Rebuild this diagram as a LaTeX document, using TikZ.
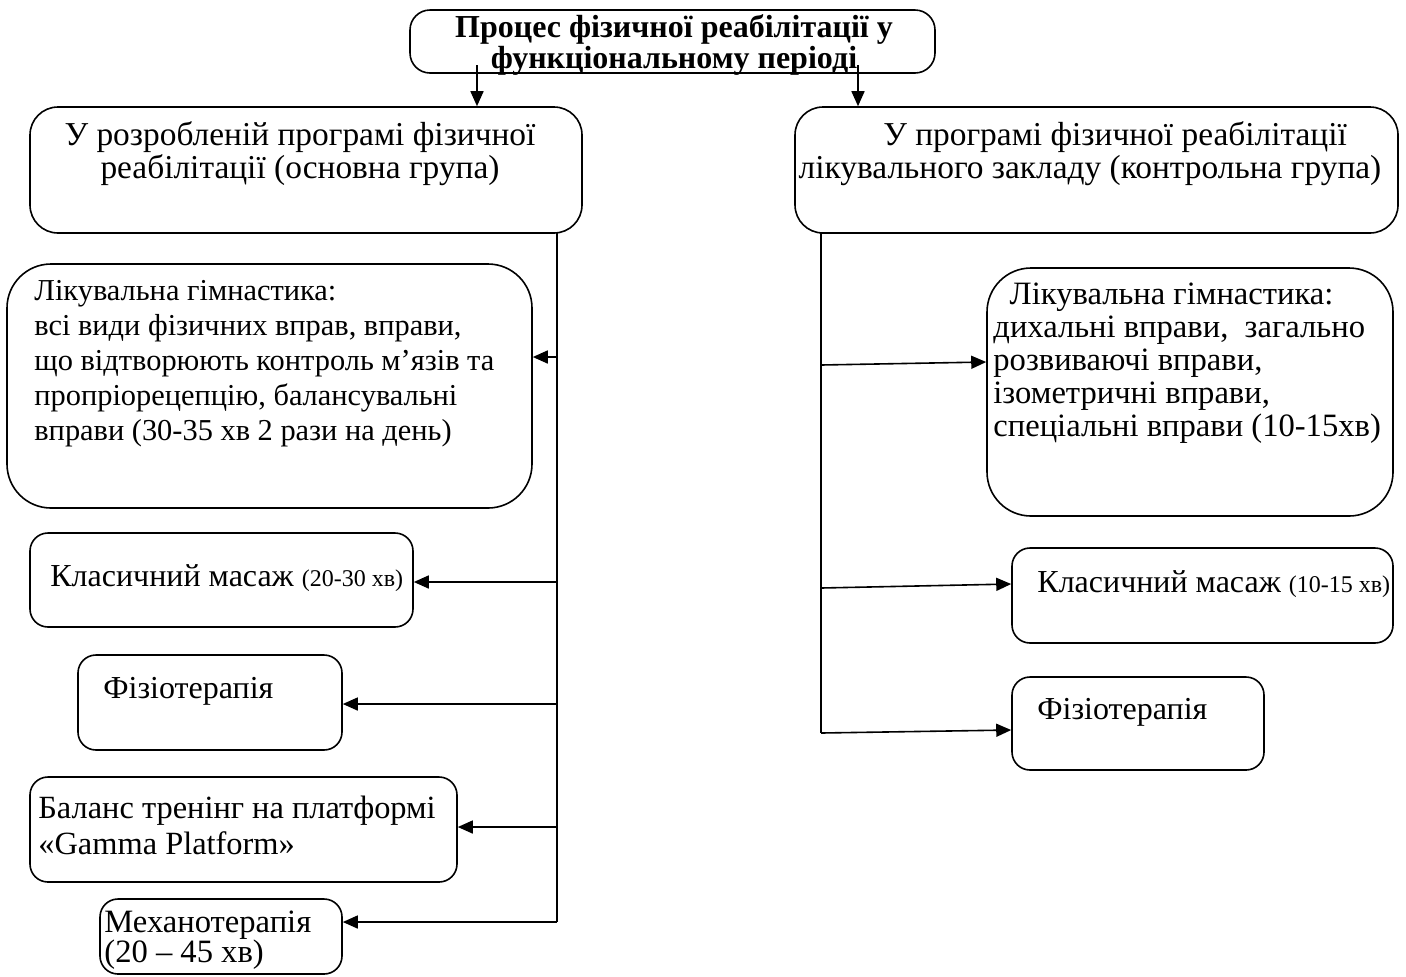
\documentclass[tikz,border=0pt]{standalone}
\usepackage{fontspec}
\setmainfont{Liberation Serif}
\usetikzlibrary{positioning,arrows.meta,calc,fit}

\begin{document}
\begin{tikzpicture}[x=0.5pt,y=-0.5pt,
  box/.style={draw, line width=0.8pt, rounded corners=#1, inner sep=0pt},
  box/.default=9pt,
  txt/.style={inner sep=0pt, font=\fontsize{16}{17.5}\selectfont},
  arr/.style={line width=0.8pt, -{Triangle[length=7.5pt,width=6.5pt]}}]
\useasboundingbox (0,0) rectangle (1406,976);

% boxes
\node[box=10pt, fit={(410,10) (935,73)}] (title) {};
\node[box=14pt, fit={(30,107) (582,233)}] (lProg) {};
\node[box=14pt, fit={(795,107) (1398,233)}] (rProg) {};
\node[box=22pt, fit={(7,264) (532,508)}] (lLG) {};
\node[box, fit={(30,533) (413,627)}] (lMas) {};
\node[box, fit={(78,655) (342,750)}] (lPhys) {};
\node[box, fit={(30,777) (457,882)}] (lBal) {};
\node[box, fit={(100,899) (342,974)}] (lMech) {};
\node[box=22pt, fit={(987,268) (1393,516)}] (rLG) {};
\node[box, fit={(1012,548) (1393,643)}] (rMas) {};
\node[box, fit={(1012,677) (1264,770)}] (rPhys) {};

% texts
\node[txt, font=\bfseries\fontsize{16}{12.5}\selectfont, align=center] (titleT) at (674,45)
  {Процес фізичної реабілітації у\\функціональному періоді};
\node[txt, font=\fontsize{16.7}{16.5}\selectfont, align=center] (lProgT) at (300,154)
  {У розробленій програмі фізичної\\реабілітації (основна група)};
\node[txt, font=\fontsize{16.7}{16.5}\selectfont, align=center] (rProgT) at (1090,154)
  {\hspace*{1.5em}У програмі фізичної реабілітації\\лікувального закладу (контрольна група)};
\node[txt, font=\fontsize{15.2}{17.5}\selectfont, align=left, anchor=west] (lLGT) at (34,364)
  {Лікувальна гімнастика:\\всі види фізичних вправ, вправи,\\що відтворюють контроль м’язів та\\пропріорецепцію, балансувальні\\вправи (30-35 хв 2 рази на день)};
\node[txt, anchor=west] (lMasT) at (50,578) {Класичний масаж {\fontsize{12}{14}\selectfont(20-30 хв)}};
\node[txt, anchor=west] (lPhysT) at (103,691) {Фізіотерапія};
\node[txt, font=\fontsize{16.2}{18}\selectfont, align=left, anchor=west] (lBalT) at (38,825)
  {Баланс тренінг на платформі\\«Gamma Platform»};
\node[txt, align=left, anchor=west, font=\fontsize{16.3}{15}\selectfont] (lMechT) at (104,940)
  {Механотерапія\\(20 – 45 хв)};
\node[txt, font=\fontsize{16.3}{16.5}\selectfont, align=left, anchor=west] (rLGT) at (993,363)
  {\hspace*{0.5em}Лікувальна гімнастика:\\дихальні вправи,\ \ загально\\розвиваючі вправи,\\ізометричні вправи,\\спеціальні вправи (10-15хв)};
\node[txt, anchor=west] (rMasT) at (1037,584) {Класичний масаж {\fontsize{12}{14}\selectfont(10-15 хв)}};
\node[txt, anchor=west] (rPhysT) at (1037,712) {Фізіотерапія};

% connectors
\coordinate (tA) at (477,65);
\coordinate (tB) at (858,65);
\draw[arr] (tA) -- (tA |- lProg.north);
\draw[arr] (tB) -- (tB |- rProg.north);

\coordinate (jL0) at (557,233);
\coordinate (jL1) at (557,357);
\coordinate (jL2) at (557,582);
\coordinate (jL3) at (557,704);
\coordinate (jL4) at (557,827);
\coordinate (jL5) at (557,922);
\draw[line width=0.8pt] (jL0) -- (jL5);
\draw[arr] (jL1) -- (jL1 -| lLG.east);
\draw[arr] (jL2) -- (jL2 -| lMas.east);
\draw[arr] (jL3) -- (jL3 -| lPhys.east);
\draw[arr] (jL4) -- (jL4 -| lBal.east);
\draw[arr] (jL5) -- (jL5 -| lMech.east);

\coordinate (jR0) at (821,233);
\coordinate (jR1) at (821,365);
\coordinate (jR2) at (821,588);
\coordinate (jR3) at (821,733);
\draw[line width=0.8pt] (jR0) -- (jR3);
\draw[arr] (jR1) -- ([yshift=1.5pt]jR1 -| rLG.west);
\draw[arr] (jR2) -- ([yshift=2pt]jR2 -| rMas.west);
\draw[arr] (jR3) -- ([yshift=1.5pt]jR3 -| rPhys.west);
\end{tikzpicture}
\end{document}
